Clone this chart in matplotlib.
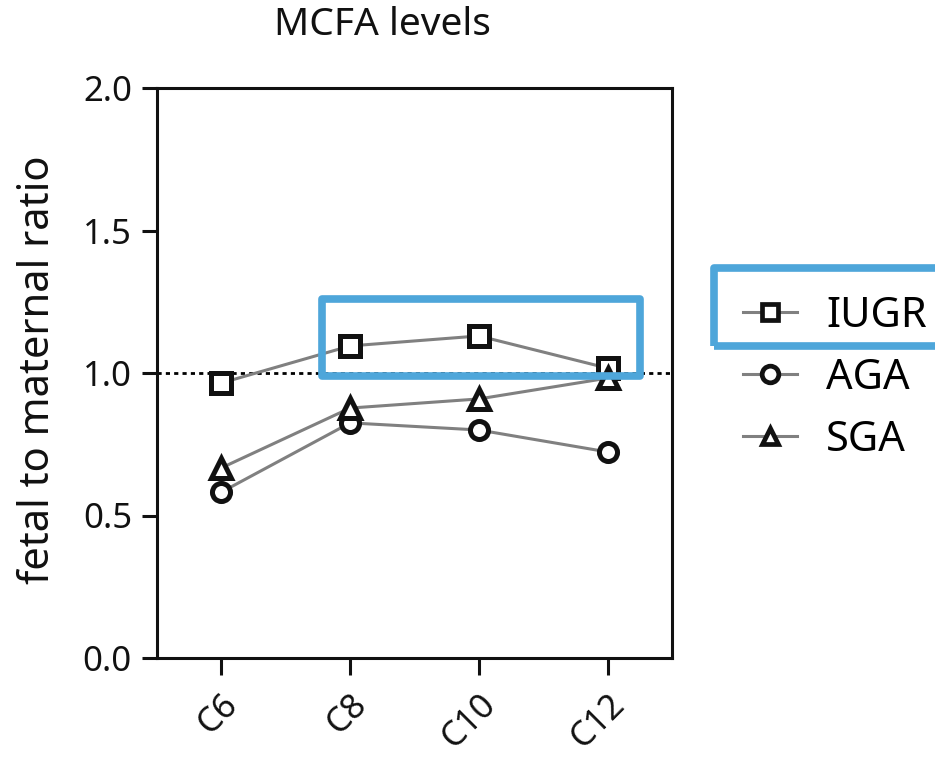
import matplotlib.pyplot as plt
from matplotlib.lines import Line2D
from matplotlib.patches import Rectangle

# chart data
categories = ["C6", "C8", "C10", "C12"]
iugr = [0.965, 1.095, 1.13, 1.017]
aga = [0.582, 0.825, 0.80, 0.723]
sga = [0.667, 0.877, 0.909, 0.982]
series_names = ["IUGR", "AGA", "SGA"]
series_markers = ["s", "o", "^"]

plt.rcParams["font.family"] = ["Noto Sans", "DejaVu Sans"]

W, H = 935, 758
fig = plt.figure(figsize=(W / 100, H / 100), dpi=100)
ax = fig.add_axes([157 / W, 1 - 658 / H, 515 / W, 570 / H])

x = list(range(len(categories)))
ax.axhline(1.0, color="black", lw=2, ls=(0, (1.5, 1.5)), zorder=1)

marker_size = {"s": 14, "o": 13, "^": 14}
for vals, mk in zip([iugr, aga, sga], series_markers):
    ax.plot(x, vals, color="#808080", lw=2.2, marker=mk, ms=marker_size[mk],
            mfc="white", mec="#111111", mew=3.6, zorder=3)

ax.set_xlim(-0.5, 3.5)
ax.set_ylim(0, 2.0)
ax.set_yticks([0.0, 0.5, 1.0, 1.5, 2.0])
ax.set_yticklabels(["0.0", "0.5", "1.0", "1.5", "2.0"])
ax.set_xticks(x)
ax.set_xticklabels(categories, rotation=45, ha="right", rotation_mode="anchor")
ax.tick_params(axis="both", direction="out", width=2.2, labelsize=25,
               colors="#111111")
ax.tick_params(axis="x", length=12, pad=9)
ax.tick_params(axis="y", length=11, pad=7)
for s in ax.spines.values():
    s.set_linewidth(2.2)
    s.set_color("#111111")

fig.text(382 / W, 1 - 25 / H, "MCFA levels", fontsize=28, ha="center",
         va="center", color="#111111")
fig.text(38 / W, 1 - 370 / H, "fetal to maternal ratio", fontsize=30,
         rotation=90, ha="center", va="center", color="#111111")

# highlight box in the plot
ax.add_patch(Rectangle((0.78, 0.99), 2.47, 0.27, fill=False,
                       ec="#4EA6DA", lw=5.5, zorder=4, clip_on=False,
                       joinstyle="round"))

# legend
handles = [Line2D([0], [0], color="#808080", lw=2.2, marker=mk, ms=12,
                  mfc="white", mec="#111111", mew=3.4)
           for mk in series_markers]
fig.legend(handles, series_names, loc="center left",
           bbox_to_anchor=(743 / W, 1 - 378 / H), frameon=False, fontsize=30,
           handlelength=1.3, labelspacing=0.48, handletextpad=0.7,
           borderpad=0, borderaxespad=0)

# highlight box around legend entry
fig.patches.append(Rectangle((714 / W, 1 - 346 / H), 260 / W, 78 / H,
                             fill=False, ec="#4EA6DA", lw=5.5,
                             transform=fig.transFigure, figure=fig,
                             joinstyle="round"))

fig.savefig("out.png", dpi=100)
